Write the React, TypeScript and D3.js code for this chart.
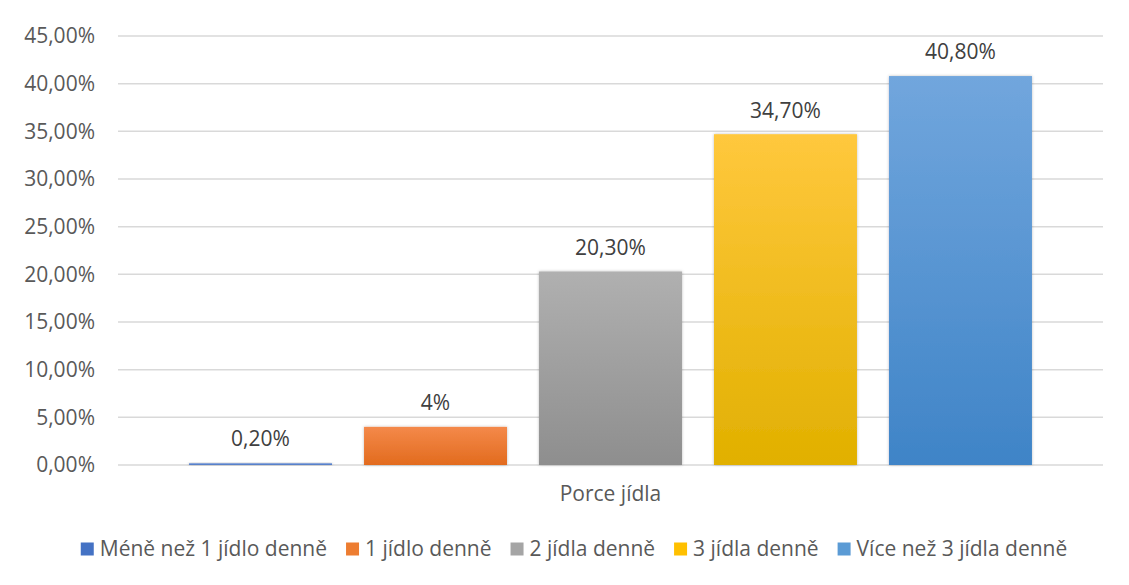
import { useRef, useEffect } from 'react'
import * as d3 from "d3";

const series = [
  "Méně než 1 jídlo denně",
  "1 jídlo denně",
  "2 jídla denně",
  "3 jídla denně",
  "Více než 3 jídla denně",
];
const values = [0.2, 4, 20.3, 34.7, 40.8];
const valueLabels = ["0,20%", "4%", "20,30%", "34,70%", "40,80%"];
const yTicks = [0, 5, 10, 15, 20, 25, 30, 35, 40, 45];
const category = "Porce jídla";

// gradient stops per series: [top, bottom]
const gradients: [string, string][] = [
  ["#8FAADC", "#4472C4"],
  ["#F4894A", "#E26B1E"],
  ["#B0B0B0", "#8E8E8E"],
  ["#FFC83D", "#E1B000"],
  ["#71A6DD", "#3F84C7"],
];
const legendColors = ["#4472C4", "#ED7D31", "#A5A5A5", "#FFC000", "#5B9BD5"];

const width = 1129;
const height = 585;
const font = "'Open Sans', sans-serif";
const fs = 21;

function BarChart() {
  const svgRef = useRef<SVGSVGElement>(null);

  useEffect(() => {
    const svg = d3.select(svgRef.current);
    svg.selectAll("*").remove();

    const left = 118, right = 1103, top = 36, bottom = 465;
    const y = d3.scaleLinear([0, 45], [bottom, top]);
    const x = d3.scaleBand(d3.range(series.length), [left, right])
      .paddingInner(0.183)
      .paddingOuter(0.406);

    const defs = svg.append("defs");
    gradients.forEach(([a, b], i) => {
      const g = defs.append("linearGradient")
        .attr("id", `grad-${i}`)
        .attr("x1", 0).attr("y1", 0).attr("x2", 0).attr("y2", 1);
      g.append("stop").attr("offset", "0%").attr("stop-color", a);
      g.append("stop").attr("offset", "100%").attr("stop-color", b);
    });
    const f = defs.append("filter").attr("id", "shadow")
      .attr("x", "-10%").attr("y", "-10%").attr("width", "120%").attr("height", "120%");
    f.append("feDropShadow").attr("dx", 0).attr("dy", 0).attr("stdDeviation", 1.5)
      .attr("flood-color", "#000").attr("flood-opacity", 0.25);

    // chart border
    svg.append("rect")
      .attr("x", 6.5).attr("y", 7.5)
      .attr("width", width + 20).attr("height", height + 20)
      .attr("fill", "white").attr("stroke", "#D9D9D9").attr("stroke-width", 1);

    // gridlines
    svg.append("g").selectAll("line").data(yTicks).join("line")
      .attr("x1", left).attr("x2", right)
      .attr("y1", d => y(d)).attr("y2", d => y(d))
      .attr("stroke", "#D9D9D9").attr("stroke-width", 1.5);

    // y tick labels
    svg.append("g").selectAll("text").data(yTicks).join("text")
      .attr("x", 95).attr("y", d => y(d)).attr("dy", "0.35em")
      .attr("text-anchor", "end")
      .attr("font-family", font).attr("font-size", fs)
      .attr("fill", "#595959")
      .text(d => d3.format(".2f")(d).replace(".", ",") + "%");

    // bars
    svg.append("g").selectAll("rect").data(values).join("rect")
      .attr("x", (_, i) => x(i)!)
      .attr("y", d => y(d))
      .attr("width", x.bandwidth())
      .attr("height", d => y(0) - y(d))
      .attr("fill", (_, i) => `url(#grad-${i})`)
      .attr("filter", "url(#shadow)");

    // data labels
    svg.append("g").selectAll("text").data(values).join("text")
      .attr("x", (_, i) => x(i)! + x.bandwidth() / 2)
      .attr("y", d => y(d) - 24).attr("dy", "0.35em")
      .attr("text-anchor", "middle")
      .attr("font-family", font).attr("font-size", fs)
      .attr("fill", "#404040")
      .text((_, i) => valueLabels[i]);

    // category label
    svg.append("text")
      .attr("x", (left + right) / 2).attr("y", 494).attr("dy", "0.35em")
      .attr("text-anchor", "middle")
      .attr("font-family", font).attr("font-size", fs)
      .attr("fill", "#595959")
      .text(category);

    // legend
    const lg = svg.append("g");
    const items = lg.selectAll("g").data(series).join("g");
    items.append("rect")
      .attr("width", 13).attr("height", 13).attr("y", -6.5)
      .attr("fill", (_, i) => legendColors[i]);
    const texts = items.append("text")
      .attr("x", 19).attr("dy", "0.35em")
      .attr("font-family", font).attr("font-size", fs)
      .attr("fill", "#595959")
      .text(d => d);
    const widths: number[] = [];
    texts.each(function () { widths.push((this as SVGTextElement).getComputedTextLength()); });
    const gap = 19;
    const total = d3.sum(widths) + widths.length * 19 + gap * (widths.length - 1);
    let cx = 574 - total / 2;
    items.attr("transform", (_, i) => {
      const t = `translate(${cx},549)`;
      cx += 19 + widths[i] + gap;
      return t;
    });
  }, []);

  return <svg ref={svgRef} width={width} height={height} style={{ display: "block", background: "white" }} />;
}

export default function App() {
  return (
    <div style={{ margin: -8 }}>
      <BarChart />
    </div>
  );
}
